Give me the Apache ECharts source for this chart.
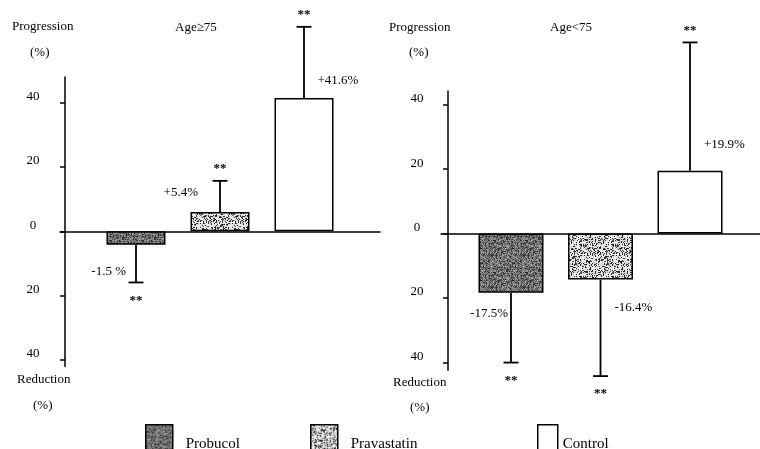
<!DOCTYPE html>
<html>
<head>
<meta charset="utf-8">
<script src="https://cdn.jsdelivr.net/npm/echarts@6/dist/echarts.min.js"></script>
<style>
html,body{margin:0;padding:0;background:#fff;}
#chart{width:760px;height:449px;}
</style>
</head>
<body>
<div id="chart"></div>
<script>
// ---- data ----
const groups = ['Probucol', 'Pravastatin', 'Control'];
const panels = ['Age≥75', 'Age<75'];
const meanOld = [-4.2, 6.0, 41.5];
const errOld = [-15.9, 15.7, 63.6];
const labelOld = ['-1.5 %', '+5.4%', '+41.6%'];
const meanYoung = [-18.4, -14.3, 19.5];
const errYoung = [-40.1, -44.3, 59.4];
const labelYoung = ['-17.5%', '-16.4%', '+19.9%'];
const yTicks = [-40, -20, 0, 20, 40];
const sigMark = '**';

// ---- styles ----
const FONT = '"Liberation Serif", "Times New Roman", serif';

function makeTexture(kind) {
  const c = document.createElement('canvas');
  c.width = 32; c.height = 32;
  const ctx = c.getContext('2d');
  let s = kind === 'dark' ? 12345 : 67890;
  const rnd = () => { s = (s * 1103515245 + 12345) & 0x7fffffff; return s / 0x7fffffff; };
  const img = ctx.createImageData(32, 32);
  for (let i = 0; i < 32 * 32; i++) {
    let v;
    const r = rnd();
    if (kind === 'dark') {
      v = r < 0.28 ? 35 + rnd() * 40 : 90 + rnd() * 80;
    } else {
      v = r < 0.28 ? 20 + rnd() * 60 : 200 + rnd() * 55;
    }
    img.data[i * 4] = v; img.data[i * 4 + 1] = v; img.data[i * 4 + 2] = v; img.data[i * 4 + 3] = 255;
  }
  ctx.putImageData(img, 0, 0);
  return c;
}
const fills = [
  { image: makeTexture('dark'), repeat: 'repeat' },
  { image: makeTexture('light'), repeat: 'repeat' },
  '#ffffff'
];

// layout per panel (pixel geometry)
const panelGeo = [
  { left: 60, width: 320, top: 77, height: 289.4, min: -42, max: 48, offset: -5, barWidth: 59, barGap: '42.4%', spacing: 84, labelMargin: 32 },
  { left: 441, width: 334, top: 91, height: 279.3, min: -42.5, max: 44.3, offset: -7, barWidth: 65, barGap: '37.7%', spacing: 89.5, labelMargin: 31 }
];
// annotation offsets: [dx from error-bar x, dy from bar end, align]
const annot = [
  [[-10, 27, 'right'], [-22, -19, 'right'], [13.5, -17, 'left']],
  [[-3, 21, 'right'], [14, 28, 'left'], [14, -26, 'left']]
];

const means = [meanOld, meanYoung];
const errs = [errOld, errYoung];
const labels = [labelOld, labelYoung];

const grids = [], xAxes = [], yAxes = [], series = [];
panelGeo.forEach((g, p) => {
  grids.push({ left: g.left, top: g.top, width: g.width, height: g.height });
  xAxes.push({
    type: 'category', gridIndex: p, data: [panels[p]],
    axisLine: { show: true, onZero: true, lineStyle: { color: '#000', width: 1.5 } },
    axisTick: { show: false }, axisLabel: { show: false }, splitLine: { show: false }
  });
  yAxes.push({
    type: 'value', gridIndex: p, min: g.min, max: g.max, offset: g.offset,
    splitLine: { show: false },
    axisLine: { show: true, lineStyle: { color: '#000', width: 1.5 } },
    axisTick: { show: true, customValues: yTicks, length: 5, lineStyle: { color: '#000', width: 1.5 } },
    axisLabel: {
      customValues: yTicks, margin: g.labelMargin, align: 'center', verticalAlign: 'bottom', lineHeight: 12,
      formatter: v => String(Math.abs(v)), color: '#000', fontSize: 13, fontFamily: FONT
    }
  });
  groups.forEach((name, k) => {
    series.push({
      type: 'bar', name: name, xAxisIndex: p, yAxisIndex: p,
      data: [means[p][k]], barWidth: g.barWidth, barGap: g.barGap,
      itemStyle: { color: fills[k], borderColor: '#000', borderWidth: 1.5 },
      emphasis: { disabled: true }, animation: false
    });
  });
  series.push({
    type: 'custom', xAxisIndex: p, yAxisIndex: p, clip: false, silent: true, animation: false,
    encode: { x: 0, y: [1, 2] },
    data: groups.map((_, k) => [0, means[p][k], errs[p][k]]),
    renderItem: (params, api) => {
      const k = params.dataIndex;
      const mean = api.value(1), err = api.value(2);
      const base = api.coord([0, 0]);
      const x = base[0] + (k - 1) * g.spacing;
      const yMean = api.coord([0, mean])[1];
      const yErr = api.coord([0, err])[1];
      const up = err > mean;
      const a = annot[p][k];
      return {
        type: 'group',
        children: [
          { type: 'line', shape: { x1: x, y1: yMean, x2: x, y2: yErr }, style: { stroke: '#000', lineWidth: 1.8 } },
          { type: 'line', shape: { x1: x - 7.5, y1: yErr, x2: x + 7.5, y2: yErr }, style: { stroke: '#000', lineWidth: 1.8 } },
          { type: 'text', style: { text: sigMark, x: x, y: yErr + (up ? -12 : 18), align: 'center', verticalAlign: 'middle', fill: '#000', font: 'bold 13px ' + FONT } },
          { type: 'text', style: { text: labels[p][k], x: x + a[0], y: yMean + a[1], align: a[2], verticalAlign: 'middle', fill: '#000', font: '13px ' + FONT } }
        ]
      };
    }
  });
});

function t(text, left, cy) {
  return { text: text, left: left, top: cy - 7, padding: 0, textStyle: { fontSize: 13, fontWeight: 'normal', color: '#000', fontFamily: FONT } };
}
const titles = [
  t('Progression', 12, 27), t('(%)', 30, 53), t(panels[0], 175, 28),
  t('Reduction', 17, 380), t('(%)', 33, 406),
  t('Progression', 389, 28), t('(%)', 409, 53), t(panels[1], 550, 28),
  t('Reduction', 393, 383), t('(%)', 410, 408)
];

const legendPos = [145, 310, 537];
const legendW = [27, 27, 20];
const legendPad = [8, 8, 0];
const legends = groups.map((name, k) => ({
  data: [name], left: legendPos[k], top: 424, itemWidth: legendW[k], itemHeight: 38,
  icon: 'rect', selectedMode: false, padding: 0,
  textStyle: { fontSize: 15, fontFamily: FONT, color: '#000', padding: [0, 0, 0, legendPad[k]] },
  itemStyle: { borderColor: '#000', borderWidth: 1.5 }
}));

const chart = echarts.init(document.getElementById('chart'), null, { renderer: 'canvas' });
chart.setOption({
  animation: false,
  backgroundColor: '#fff',
  title: titles,
  legend: legends,
  grid: grids,
  xAxis: xAxes,
  yAxis: yAxes,
  series: series
});
</script>
</body>
</html>
